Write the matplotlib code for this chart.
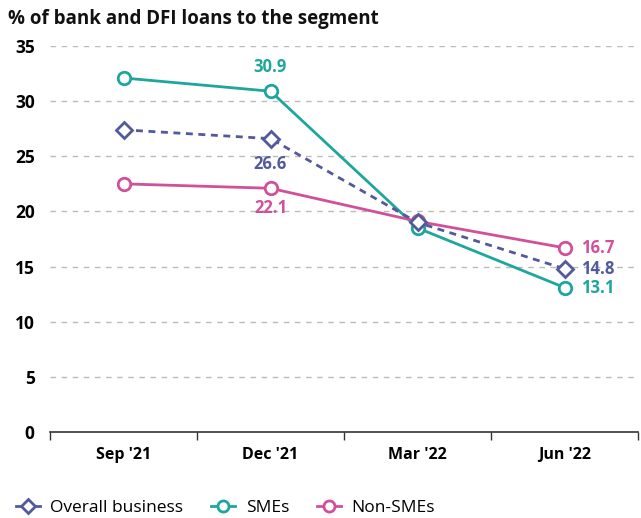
import matplotlib
matplotlib.use("Agg")
import matplotlib.pyplot as plt
from matplotlib.lines import Line2D
from matplotlib.ticker import FixedLocator

plt.rcParams['font.family'] = ['Open Sans', 'DejaVu Sans']

quarters = ["Sep '21", "Dec '21", "Mar '22", "Jun '22"]
overall = [27.4, 26.6, 19.0, 14.8]
smes = [32.1, 30.9, 18.5, 13.1]
non_smes = [22.5, 22.1, 19.1, 16.7]

c_overall = "#525a9c"
c_smes = "#1fa69c"
c_non = "#d1509a"

fig = plt.figure(figsize=(6.41, 5.18), dpi=100)
ax = fig.add_axes([50/641, 86/518, 588/641, 386/518])

x = list(range(len(quarters)))
ax.plot(x, smes, color=c_smes, lw=2, marker='o', ms=9, mfc='white', mew=2, zorder=3)
ax.plot(x, non_smes, color=c_non, lw=2, marker='o', ms=9, mfc='white', mew=2, zorder=4)
ax.plot(x, overall, color=c_overall, lw=2, ls=(0, (2.5, 2)), marker='D', ms=8, mfc='white', mew=2, zorder=5)

ax.set_xlim(-0.5, 3.5)
ax.set_ylim(0, 35)
ax.set_yticks(range(0, 36, 5))
ax.set_xticks(x)
ax.set_xticklabels(quarters, fontsize=11.5, fontweight='bold')
ax.xaxis.set_minor_locator(FixedLocator([-0.5, 0.5, 1.5, 2.5, 3.5]))
ax.tick_params(axis='x', which='major', length=0, pad=11)
ax.tick_params(axis='x', which='minor', length=6, width=1, color='#333333')
ax.tick_params(axis='y', length=0, labelsize=12.5, pad=11)
for lbl in ax.get_yticklabels():
    lbl.set_fontweight('bold')

for y in range(5, 36, 5):
    ax.axhline(y, color='#bbbbbb', lw=1, ls=(0, (4, 4)), zorder=1)

for s in ['top', 'right', 'left']:
    ax.spines[s].set_visible(False)
ax.spines['bottom'].set_color('#333333')
ax.spines['bottom'].set_linewidth(1.2)

fs = 12
ax.annotate(f"{smes[1]:.1f}", (1, smes[1]), xytext=(0, 11), textcoords='offset points',
            ha='center', va='bottom', color=c_smes, fontsize=fs, fontweight='bold')
ax.annotate(f"{overall[1]:.1f}", (1, overall[1]), xytext=(0, -12), textcoords='offset points',
            ha='center', va='top', color=c_overall, fontsize=fs, fontweight='bold')
ax.annotate(f"{non_smes[1]:.1f}", (1, non_smes[1]), xytext=(0, -8), textcoords='offset points',
            ha='center', va='top', color=c_non, fontsize=fs, fontweight='bold')
for vals, col in [(non_smes, c_non), (overall, c_overall), (smes, c_smes)]:
    ax.annotate(f"{vals[3]:.1f}", (3, vals[3]), xytext=(12, 0), textcoords='offset points',
                ha='left', va='center', color=col, fontsize=fs, fontweight='bold')

fig.text(8/641, 1 - 19/518, "% of bank and DFI loans to the segment", fontsize=13.5,
         fontweight='bold', va='center', ha='left', color='#111111')

handles = [
    Line2D([], [], color=c_overall, lw=2, marker='D', ms=7, mfc='white', mew=2),
    Line2D([], [], color=c_smes, lw=2, marker='o', ms=8, mfc='white', mew=2),
    Line2D([], [], color=c_non, lw=2, marker='o', ms=8, mfc='white', mew=2),
]
fig.legend(handles, ["Overall business", "SMEs", "Non-SMEs"], loc='center left',
           bbox_to_anchor=(0.0, 1 - 508/518), ncol=3, frameon=False, fontsize=12.5,
           handlelength=1.4, handletextpad=0.6, columnspacing=1.6)

fig.savefig("out.png", dpi=100)
